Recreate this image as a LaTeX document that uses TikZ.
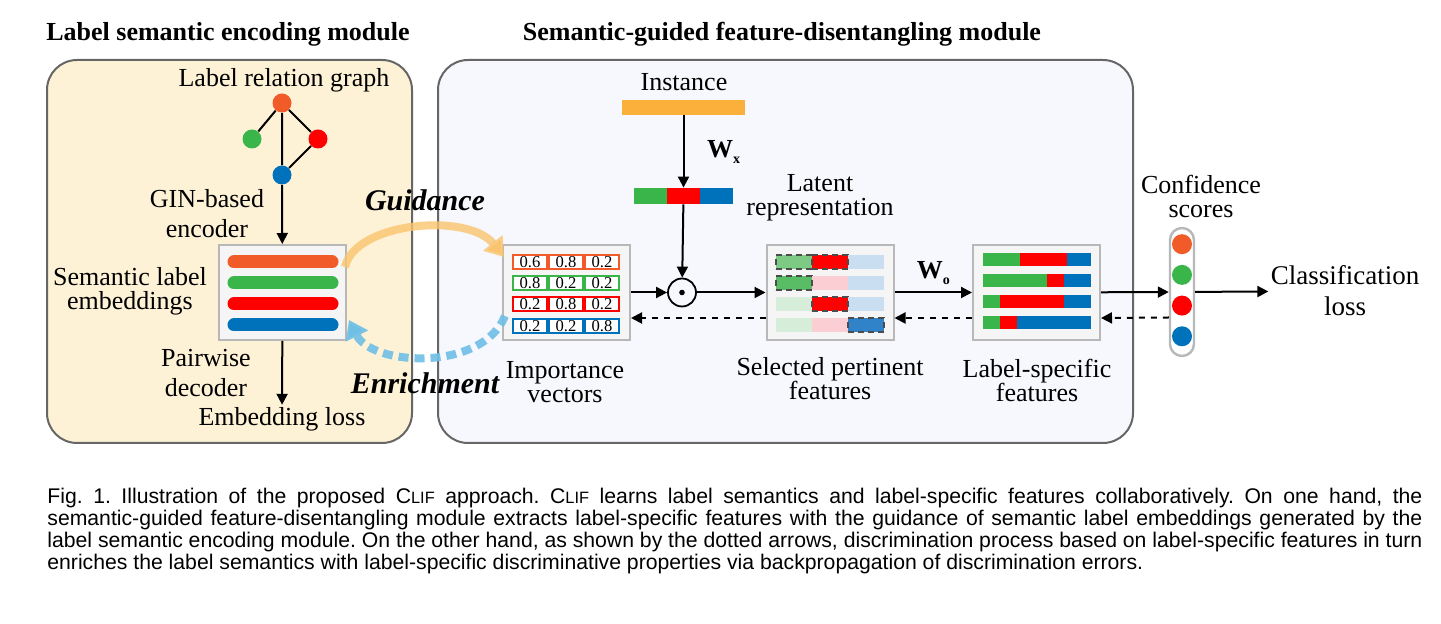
\documentclass[tikz,border=0pt]{standalone}
\usepackage{fontspec}
\setmainfont{Liberation Serif}
\newfontfamily\capfont{Liberation Sans}
\usetikzlibrary{arrows.meta}

\definecolor{corange}{RGB}{241,90,41}
\definecolor{cgreen}{RGB}{57,181,74}
\definecolor{cred}{RGB}{255,0,0}
\definecolor{cblue}{RGB}{0,114,188}
\definecolor{cinst}{RGB}{251,176,59}
\definecolor{lsefill}{RGB}{254,242,214}
\definecolor{sgffill}{RGB}{246,248,253}
\definecolor{lgreen}{RGB}{214,237,217}
\definecolor{lred}{RGB}{251,206,211}
\definecolor{lblue}{RGB}{201,222,240}
\definecolor{mgreen}{RGB}{125,202,132}
\definecolor{mgreenb}{RGB}{88,189,100}
\definecolor{mblue}{RGB}{48,131,201}
\definecolor{cguide}{RGB}{250,196,110}
\definecolor{cenrich}{RGB}{110,190,230}

\newcommand\clif{C{\fontsize{8.2}{8}\selectfont LIF}}

\tikzset{
  lbl/.style={font=\fontsize{13}{12}\selectfont,align=center,inner sep=1pt},
  widelbl/.style={lbl,font=\fontsize{13}{15}\selectfont},
  modtitle/.style={font=\fontsize{13}{14}\selectfont\bfseries},
  modbox/.style={draw=black!60,line width=1pt,rounded corners=15pt,inner sep=0},
  inbox/.style={draw=black!28,line width=1pt,fill=white!96!black,minimum width=63.5pt,minimum height=47.5pt,inner sep=0},
  gdot/.style={circle,inner sep=0,minimum size=9.5pt},
  cdot/.style={circle,inner sep=0,minimum size=10pt},
  bar/.style={line width=6.5pt,line cap=round},
  cell/.style={draw,line width=0.9pt,fill=white,minimum width=17pt,minimum height=7pt,inner sep=0,font=\fontsize{8.3}{8}\selectfont},
  seg/.style={minimum width=18pt,minimum height=7pt,inner sep=0},
  pick/.style={seg,draw=black!70,densely dashed,line width=0.8pt},
  arr/.style={-{Triangle[length=5.5pt,width=5.5pt]},line width=1pt},
  back/.style={arr,dashed},
  wlbl/.style={font=\fontsize{13}{13}\selectfont\bfseries},
  guide/.style={cguide,draw opacity=0.8,line width=4pt,-{Triangle[length=9pt,width=12pt]}},
  enrich/.style={cenrich,draw opacity=0.9,line width=4pt,dash pattern=on 5pt off 3pt,-{Triangle[length=9pt,width=12pt]}}
}

\begin{document}
\begin{tikzpicture}[x=0.5pt,y=-0.5pt]
\useasboundingbox (0,0) rectangle (1441,624);

% the two modules
\node[modbox,fill=lsefill,minimum width=182.5pt,minimum height=191.5pt] (lse) at (229.5,251.5) {};
\node[modbox,fill=sgffill,minimum width=347.5pt,minimum height=191.5pt] (sgf) at (785.5,251.5) {};
\node[modtitle] (lsetitle) at (228,34) {Label semantic encoding module};
\node[modtitle] (sgftitle) at (782,34) {Semantic-guided feature-disentangling module};

% label relation graph
\node[lbl] (graph) at (284,80) {Label relation graph};
\node[gdot,fill=corange] (g1) at (282,103) {};
\node[gdot,fill=cgreen] (g2) at (252,139) {};
\node[gdot,fill=cred] (g3) at (318,139) {};
\node[gdot,fill=cblue] (g4) at (282,175) {};
\draw[line width=1pt] (g1)--(g2) (g1)--(g3) (g1)--(g4) (g3)--(g4);

% semantic label embeddings
\node[inbox] (emb) at (282.5,292.5) {};
\foreach \c [count=\i] in {corange,cgreen,cred,cblue}
  \draw[bar,\c] (234,241+21*\i) -- (332,241+21*\i);
\node[widelbl] (gin) at (207,214) {GIN-based\\encoder};
\node[lbl] (embtxt) at (130,291) {Semantic label\\embeddings};
\node[widelbl] (pair) at (206,373) {Pairwise\\decoder};
\node[lbl] (eloss) at (282,419) {Embedding loss};
\draw[arr] (g4) -- (emb);
\draw[arr] (emb) -- (eloss);

% instance and latent representation
\node[lbl] (inst) at (684,82) {Instance};
\node[fill=cinst,minimum width=61.5pt,minimum height=7.5pt,inner sep=0] (instbar) at (683.5,107.5) {};
\node[seg,fill=cgreen,minimum width=16.5pt,minimum height=8pt] (lat1) at (650.5,196) {};
\node[seg,fill=cred,minimum width=16.5pt,minimum height=8pt] (lat2) at (683.5,196) {};
\node[seg,fill=cblue,minimum width=16.5pt,minimum height=8pt] (lat3) at (716.5,196) {};
\node[lbl] (lattxt) at (820,198) {Latent\\representation};
\draw[arr] (instbar) -- (lat2) node[midway,right=8pt,wlbl] {W{\fontsize{7}{7}\selectfont\raisebox{-3pt}{x}}};

% importance vectors
\node[inbox] (imp) at (566.5,292.5) {};
\foreach \c/\a/\b/\d [count=\i] in {corange/0.6/0.8/0.2,cgreen/0.8/0.2/0.2,cred/0.2/0.8/0.2,cblue/0.2/0.2/0.8}
  \foreach \v [count=\j] in {\a,\b,\d}
    \node[cell,draw=\c] at (494+36*\j,240.5+21.3*\i) {\v};
\node[lbl] (imptxt) at (565,382) {Importance\\vectors};

% element-wise product
\node[circle,draw,line width=0.9pt,minimum size=14pt,inner sep=0] (had) at (682,292.5) {};
\fill (had.center) circle (1.4pt);
\draw[arr] (lat2) -- (had);
\draw[arr] (imp) -- (had);

% selected pertinent features
\node[inbox] (sel) at (830,292.5) {};
\foreach \i in {1,...,4}
  \foreach \c [count=\j] in {lgreen,lred,lblue}
    \node[seg,fill=\c] at (758+36*\j,241+21*\i) {};
\foreach \i/\j/\c in {1/1/mgreen,1/2/cred,2/1/mgreenb,3/2/cred,4/3/mblue}
  \node[pick,fill=\c] at (758+36*\j,241+21*\i) {};
\node[lbl] (seltxt) at (830,379) {Selected pertinent\\features};
\draw[arr] (had) -- (sel);

% label-specific features
\node[inbox] (lsf) at (1036.5,292.5) {};
\foreach \g/\r [count=\i] in {1020/1067,1047/1064,1000/1064,1000/1017} {
  \fill[cgreen] (983,232.5+21*\i) rectangle (\g,245.5+21*\i);
  \fill[cred] (\g,232.5+21*\i) rectangle (\r,245.5+21*\i);
  \fill[cblue] (\r,232.5+21*\i) rectangle (1091,245.5+21*\i);
}
\node[lbl] (lsftxt) at (1037,380) {Label-specific\\features};
\draw[arr] (sel) -- (lsf) node[midway,above=0pt,wlbl] {W{\fontsize{7}{7}\selectfont\raisebox{-3pt}{o}}};

% confidence scores
\node[draw=black!28,line width=1.2pt,fill=white,rounded corners=6pt,minimum width=12pt,minimum height=64pt,inner sep=0] (conf) at (1182,292) {};
\foreach \c [count=\i] in {corange,cgreen,cred,cblue}
  \node[cdot,fill=\c] (s\i) at (1182,213.5+30.7*\i) {};
\node[lbl] (conftxt) at (1201,196) {Confidence\\scores};
\node[lbl,font=\fontsize{13.5}{15.5}\selectfont] (cls) at (1345,291) {Classification\\loss};
\draw[arr] (lsf) -- (conf);
\draw[arr] (conf) -- (cls);

% backward (dotted) arrows
\draw[back] ([yshift=-12.75pt]conf.west) -- ([yshift=-12.75pt]lsf.east);
\draw[back] ([yshift=-12.75pt]lsf.west) -- ([yshift=-12.75pt]sel.east);
\draw[back] ([yshift=-12.75pt]sel.west) -- ([yshift=-12.75pt]imp.east);

% guidance and enrichment
\coordinate (gstart) at (345,267);
\coordinate (gend) at (504,257);
\coordinate (estart) at (505,316);
\coordinate (eend) at (349,320);
\draw[guide] (gstart) .. controls (355,222) and (468,212) .. (gend);
\draw[enrich] (estart) .. controls (482,372) and (372,366) .. (eend);
\node[font=\fontsize{15}{15}\selectfont\bfseries\itshape] (guid) at (425,200) {Guidance};
\node[font=\fontsize{15}{15}\selectfont\bfseries\itshape] (enr) at (425,383) {Enrichment};

% caption
\node[anchor=north west,inner sep=0,text width=687.5pt,align=justify,font=\capfont\fontsize{10.6}{11}\selectfont] (cap) at (47,488) {\frenchspacing\hyphenpenalty=10000\tolerance=10000
Fig. 1. Illustration of the proposed \clif{} approach. \clif{} learns label semantics and label-specific features collaboratively. On one hand, the\linebreak
semantic-guided feature-disentangling module extracts label-specific features with the guidance of semantic label embeddings generated by the\linebreak
label semantic encoding module. On the other hand, as shown by the dotted arrows, discrimination process based on label-specific features in turn\linebreak
enriches the label semantics with label-specific discriminative properties via backpropagation of discrimination errors.\par};
\end{tikzpicture}
\end{document}
